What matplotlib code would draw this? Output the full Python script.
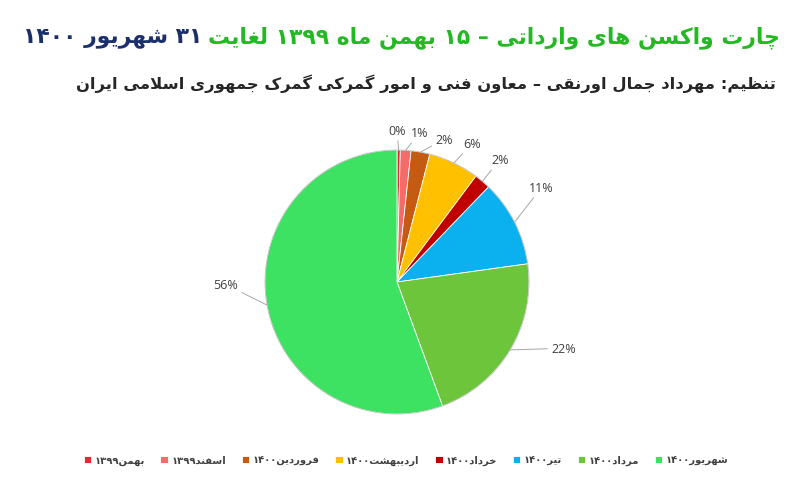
import matplotlib
matplotlib.use("Agg")
import matplotlib.pyplot as plt
import numpy as np

# ---------------- data ----------------
months = ["بهمن۱۳۹۹", "اسفند۱۳۹۹", "فروردین۱۴۰۰", "اردیبهشت۱۴۰۰",
          "خرداد۱۴۰۰", "تیر۱۴۰۰", "مرداد۱۴۰۰", "شهریور۱۴۰۰"]
shares = [0.4, 1.3, 2.3, 6.2, 2.0, 10.6, 21.6, 55.6]
colors = ["#e8262b", "#f56b67", "#c55a11", "#ffc000",
          "#c00000", "#0bb0ee", "#6dc53b", "#3ee262"]
title_green = "چارت واکسن های وارداتی – ۱۵ بهمن ماه ۱۳۹۹ لغایت"
title_navy = "۳۱ شهریور ۱۴۰۰"
subtitle = "تنظیم: مهرداد جمال اورنقی – معاون فنی و امور گمرکی گمرک جمهوری اسلامی ایران"

# ---------------- minimal Persian shaping + visual ordering ----------------
DUAL = {
    "ب": (0xFE8F, 0xFE90, 0xFE91, 0xFE92), "پ": (0xFB56, 0xFB57, 0xFB58, 0xFB59),
    "ت": (0xFE95, 0xFE96, 0xFE97, 0xFE98), "ث": (0xFE99, 0xFE9A, 0xFE9B, 0xFE9C),
    "ج": (0xFE9D, 0xFE9E, 0xFE9F, 0xFEA0), "چ": (0xFB7A, 0xFB7B, 0xFB7C, 0xFB7D),
    "ح": (0xFEA1, 0xFEA2, 0xFEA3, 0xFEA4), "خ": (0xFEA5, 0xFEA6, 0xFEA7, 0xFEA8),
    "س": (0xFEB1, 0xFEB2, 0xFEB3, 0xFEB4), "ش": (0xFEB5, 0xFEB6, 0xFEB7, 0xFEB8),
    "ص": (0xFEB9, 0xFEBA, 0xFEBB, 0xFEBC), "ض": (0xFEBD, 0xFEBE, 0xFEBF, 0xFEC0),
    "ط": (0xFEC1, 0xFEC2, 0xFEC3, 0xFEC4), "ظ": (0xFEC5, 0xFEC6, 0xFEC7, 0xFEC8),
    "ع": (0xFEC9, 0xFECA, 0xFECB, 0xFECC), "غ": (0xFECD, 0xFECE, 0xFECF, 0xFED0),
    "ف": (0xFED1, 0xFED2, 0xFED3, 0xFED4), "ق": (0xFED5, 0xFED6, 0xFED7, 0xFED8),
    "ک": (0xFB8E, 0xFB8F, 0xFB90, 0xFB91), "گ": (0xFB92, 0xFB93, 0xFB94, 0xFB95),
    "ل": (0xFEDD, 0xFEDE, 0xFEDF, 0xFEE0), "م": (0xFEE1, 0xFEE2, 0xFEE3, 0xFEE4),
    "ن": (0xFEE5, 0xFEE6, 0xFEE7, 0xFEE8), "ه": (0xFEE9, 0xFEEA, 0xFEEB, 0xFEEC),
    "ی": (0xFBFC, 0xFBFD, 0xFBFE, 0xFBFF),
}
RIGHT = {
    "ا": (0xFE8D, 0xFE8E), "آ": (0xFE81, 0xFE82), "د": (0xFEA9, 0xFEAA),
    "ذ": (0xFEAB, 0xFEAC), "ر": (0xFEAD, 0xFEAE), "ز": (0xFEAF, 0xFEB0),
    "ژ": (0xFB8A, 0xFB8B), "و": (0xFEED, 0xFEEE),
}
LETTERS = set(DUAL) | set(RIGHT)


def shape(s):
    out = []
    i = 0
    n = len(s)
    while i < n:
        c = s[i]
        prev = s[i - 1] if i > 0 else ""
        joins_prev = c in LETTERS and prev in DUAL
        if c == "ل" and i + 1 < n and s[i + 1] == "ا":
            out.append(chr(0xFEFC if joins_prev else 0xFEFB))
            i += 2
            continue
        nxt = s[i + 1] if i + 1 < n else ""
        if c in DUAL:
            joins_next = nxt in LETTERS
            forms = DUAL[c]
            if joins_prev and joins_next:
                out.append(chr(forms[3]))
            elif joins_prev:
                out.append(chr(forms[1]))
            elif joins_next:
                out.append(chr(forms[2]))
            else:
                out.append(chr(forms[0]))
        elif c in RIGHT:
            out.append(chr(RIGHT[c][1] if joins_prev else RIGHT[c][0]))
        else:
            out.append(c)
        i += 1
    return "".join(out)


def visual(s):
    sh = shape(s)
    runs = []
    cur = ""
    cur_d = None
    for ch in sh:
        d = ch.isdigit()
        if cur and d != cur_d:
            runs.append((cur, cur_d))
            cur = ""
        cur += ch
        cur_d = d
    if cur:
        runs.append((cur, cur_d))
    return "".join(r if d else r[::-1] for r, d in reversed(runs))


# ---------------- figure ----------------
W, H = 800, 489
fig = plt.figure(figsize=(W / 100, H / 100), dpi=100)
fig.patch.set_facecolor("white")
renderer = fig.canvas.get_renderer()

FA = ["DejaVu Sans"]

# Title (two colours)
t_green = fig.text(0, 0, visual(title_green), color="#22b922", fontsize=20,
                   fontweight="bold", family=FA, ha="right", va="center")
t_navy = fig.text(0, 0, visual(title_navy), color="#1b2f6b", fontsize=20,
                  fontweight="bold", family=FA, ha="right", va="center")
w_tot = (t_green.get_window_extent(renderer).width +
         t_navy.get_window_extent(renderer).width + 8)
scale = 758 / w_tot
for t in (t_green, t_navy):
    t.set_fontsize(20 * scale)
gap = 0.35 * 20 * scale
title_y = 1 - 38 / H
t_green.set_position((780 / W, title_y))
gx0 = t_green.get_window_extent(renderer).x0
t_navy.set_position(((gx0 - gap) / W, title_y))

# Subtitle
t_sub = fig.text(776 / W, 1 - 84 / H, visual(subtitle), color="#262626",
                 fontsize=13, fontweight="bold", family=FA, ha="right", va="center")
sw = t_sub.get_window_extent(renderer).width
t_sub.set_fontsize(13 * 700 / sw)

# Pie axes: centre (397, 283) px, radius 132 px
R = 132
cx, cy = 397, H - 283
span = 1.25
ax = fig.add_axes([(cx - span * R) / W, (cy - span * R) / H,
                   2 * span * R / W, 2 * span * R / H])
ax.set_xlim(-span, span)
ax.set_ylim(-span, span)
ax.set_aspect("equal")
ax.axis("off")

wedges, _ = ax.pie(shares, colors=colors, startangle=90, counterclock=False,
                   radius=1.0,
                   wedgeprops=dict(edgecolor="white", linewidth=0.6))
# faint outer rim like the reference
ax.add_patch(plt.Circle((0, 0), 1.0, fill=False, edgecolor="#9a9a9a",
                        linewidth=0.6, alpha=0.6))

# percentage labels with leader lines
lab_r = [1.15, 1.145, 1.14, 1.195, 1.21, 1.31, 1.36, 1.30]
lab_da = [0.8, -4.8, -8.1, -2.9, 0.3, 6.2, 9.3, -9.3]
total = float(sum(shares))
for k, w in enumerate(wedges):
    mid = 0.5 * (w.theta1 + w.theta2)
    a = np.deg2rad(mid)
    xe, ye = np.cos(a), np.sin(a)
    al = np.deg2rad(mid + lab_da[k])
    xl, yl = lab_r[k] * np.cos(al), lab_r[k] * np.sin(al)
    pct = int(round(100 * shares[k] / total))
    ax.annotate(f"{pct}%", xy=(xe, ye), xytext=(xl, yl),
                ha="center", va="center", fontsize=9, color="#404040",
                family=["Open Sans", "DejaVu Sans"],
                arrowprops=dict(arrowstyle="-", color="#a6a6a6", lw=0.7,
                                shrinkA=1, shrinkB=0),
                annotation_clip=False)

# legend
leg = fig.legend(wedges, [visual(m) for m in months], loc="center",
                 bbox_to_anchor=(406 / W, 1 - 461 / H), ncol=8, frameon=False,
                 prop=dict(family=FA, size=7.2, weight="bold"), handlelength=0.75,
                 handleheight=0.75, handletextpad=0.35, columnspacing=1.55,
                 labelcolor="#404040")

fig.savefig("out.png", dpi=100, facecolor="white")
